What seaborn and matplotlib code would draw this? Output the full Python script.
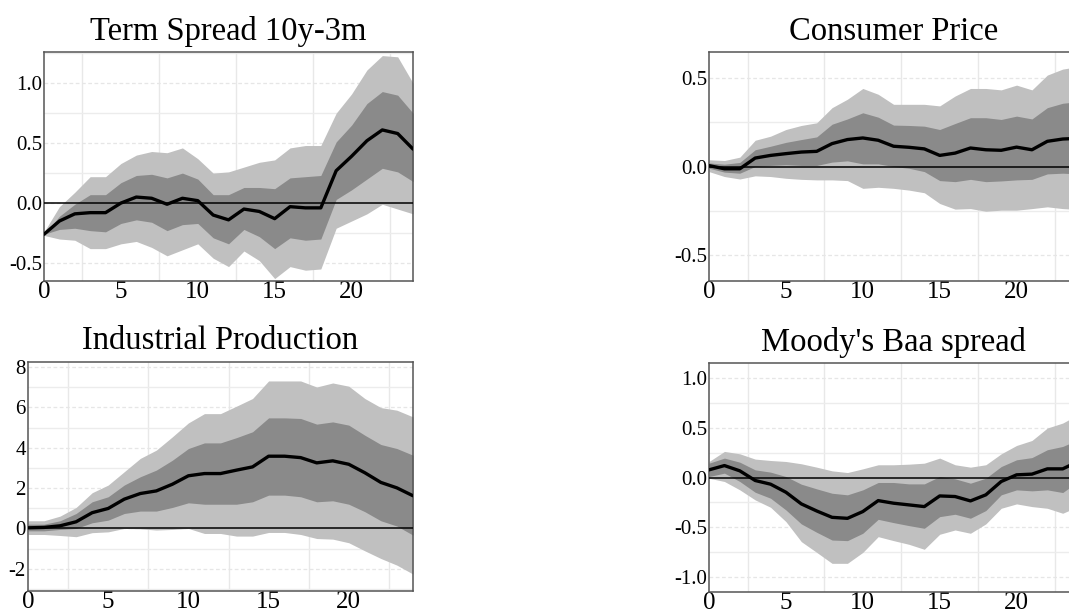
import matplotlib
matplotlib.use('Agg')
import matplotlib.pyplot as plt
import seaborn as sns
import pandas as pd
import numpy as np
from matplotlib.ticker import MultipleLocator

sns.set_theme(style='white')
plt.rcParams['font.family'] = ['Liberation Serif', 'DejaVu Serif']
plt.rcParams['text.color'] = 'black'
plt.rcParams['xtick.color'] = 'black'
plt.rcParams['ytick.color'] = 'black'

horizon = list(range(25))

# Term Spread 10y-3m
ts_med = [-0.26, -0.15, -0.09, -0.08, -0.08, 0.0, 0.05, 0.04, -0.01, 0.04, 0.02, -0.1, -0.14,
          -0.05, -0.07, -0.13, -0.03, -0.04, -0.04, 0.27, 0.39, 0.52, 0.61, 0.58, 0.45]
ts_d_hi = [-0.26, -0.11, -0.01, 0.07, 0.07, 0.17, 0.23, 0.24, 0.21, 0.25, 0.2, 0.07, 0.07,
           0.13, 0.13, 0.12, 0.21, 0.22, 0.23, 0.51, 0.65, 0.83, 0.93, 0.9, 0.75]
ts_d_lo = [-0.26, -0.22, -0.21, -0.23, -0.24, -0.17, -0.14, -0.16, -0.23, -0.18, -0.17, -0.29, -0.34,
           -0.22, -0.28, -0.38, -0.29, -0.31, -0.3, 0.03, 0.11, 0.2, 0.29, 0.26, 0.18]
ts_l_hi = [-0.24, -0.03, 0.09, 0.22, 0.22, 0.33, 0.4, 0.43, 0.42, 0.46, 0.37, 0.25, 0.26,
           0.3, 0.34, 0.36, 0.46, 0.48, 0.48, 0.75, 0.91, 1.11, 1.23, 1.22, 1.0]
ts_l_lo = [-0.27, -0.3, -0.31, -0.38, -0.38, -0.34, -0.32, -0.37, -0.44, -0.39, -0.34, -0.46, -0.53,
           -0.4, -0.48, -0.63, -0.53, -0.56, -0.55, -0.21, -0.15, -0.09, -0.01, -0.05, -0.09]

# Consumer Price
cp_med = [0.005, -0.013, -0.013, 0.048, 0.063, 0.073, 0.082, 0.086, 0.13, 0.153, 0.162, 0.149, 0.115,
          0.109, 0.1, 0.063, 0.076, 0.105, 0.095, 0.092, 0.11, 0.095, 0.143, 0.156, 0.16]
cp_d_hi = [0.02, 0.013, 0.023, 0.095, 0.115, 0.137, 0.153, 0.168, 0.24, 0.27, 0.305, 0.28, 0.235,
           0.233, 0.229, 0.21, 0.244, 0.277, 0.277, 0.267, 0.286, 0.27, 0.334, 0.359, 0.368]
cp_d_lo = [-0.01, -0.032, -0.038, 0.0, 0.006, 0.01, 0.006, 0.006, 0.025, 0.032, 0.015, 0.015, 0.0,
           -0.01, -0.029, -0.08, -0.086, -0.073, -0.086, -0.082, -0.076, -0.073, -0.042, -0.038, -0.042]
cp_l_hi = [0.038, 0.034, 0.053, 0.149, 0.172, 0.21, 0.233, 0.248, 0.334, 0.382, 0.443, 0.41, 0.353,
           0.353, 0.353, 0.344, 0.4, 0.443, 0.443, 0.435, 0.462, 0.435, 0.519, 0.553, 0.567]
cp_l_lo = [-0.029, -0.057, -0.071, -0.053, -0.057, -0.067, -0.073, -0.076, -0.076, -0.08, -0.124, -0.118, -0.124,
           -0.134, -0.149, -0.21, -0.242, -0.239, -0.254, -0.248, -0.248, -0.239, -0.229, -0.239, -0.244]

# Industrial Production
ip_med = [0.03, 0.05, 0.13, 0.33, 0.78, 0.99, 1.45, 1.73, 1.86, 2.19, 2.61, 2.72, 2.72,
          2.89, 3.05, 3.58, 3.58, 3.51, 3.25, 3.35, 3.18, 2.76, 2.28, 2.01, 1.62]
ip_d_hi = [0.21, 0.21, 0.38, 0.74, 1.32, 1.57, 2.15, 2.56, 2.89, 3.38, 3.96, 4.24, 4.24,
           4.5, 4.79, 5.48, 5.48, 5.45, 5.17, 5.28, 5.12, 4.62, 4.16, 3.96, 3.63]
ip_d_lo = [-0.12, -0.12, -0.05, 0.0, 0.28, 0.41, 0.74, 0.86, 0.86, 1.04, 1.27, 1.2, 1.2,
           1.2, 1.32, 1.65, 1.65, 1.57, 1.32, 1.37, 1.2, 0.83, 0.38, 0.12, -0.33]
ip_l_hi = [0.38, 0.38, 0.61, 1.04, 1.77, 2.15, 2.81, 3.47, 3.88, 4.54, 5.23, 5.69, 5.69,
           6.06, 6.44, 7.31, 7.31, 7.31, 7.01, 7.21, 7.05, 6.44, 5.99, 5.86, 5.53]
ip_l_lo = [-0.3, -0.3, -0.35, -0.41, -0.21, -0.17, 0.0, -0.02, -0.08, -0.05, 0.0, -0.25, -0.25,
           -0.38, -0.38, -0.2, -0.2, -0.3, -0.5, -0.53, -0.71, -1.11, -1.49, -1.82, -2.26]

# Moody's Baa spread
baa_med = [0.077, 0.12, 0.067, -0.03, -0.067, -0.148, -0.265, -0.336, -0.4, -0.41, -0.342, -0.232, -0.258,
           -0.275, -0.292, -0.185, -0.191, -0.235, -0.174, -0.04, 0.027, 0.034, 0.087, 0.087, 0.16]
baa_d_hi = [0.144, 0.195, 0.154, 0.077, 0.054, 0.01, -0.067, -0.114, -0.158, -0.174, -0.124, -0.05, -0.05,
            -0.064, -0.064, 0.01, -0.013, -0.057, -0.007, 0.11, 0.178, 0.2, 0.279, 0.312, 0.379]
baa_d_lo = [0.01, 0.044, -0.04, -0.148, -0.208, -0.326, -0.466, -0.55, -0.628, -0.634, -0.56, -0.42, -0.453,
            -0.483, -0.51, -0.393, -0.369, -0.409, -0.332, -0.174, -0.124, -0.134, -0.124, -0.151, -0.04]
baa_l_hi = [0.161, 0.262, 0.238, 0.185, 0.171, 0.161, 0.138, 0.104, 0.067, 0.05, 0.087, 0.128, 0.128,
            0.134, 0.144, 0.195, 0.128, 0.104, 0.128, 0.238, 0.322, 0.372, 0.497, 0.547, 0.631]
baa_l_lo = [-0.007, -0.04, -0.124, -0.225, -0.299, -0.443, -0.644, -0.752, -0.862, -0.862, -0.752, -0.594, -0.634,
            -0.671, -0.721, -0.57, -0.527, -0.56, -0.466, -0.309, -0.265, -0.292, -0.309, -0.359, -0.292]

panels = [
    ("Term Spread 10y-3m", ts_med, ts_d_lo, ts_d_hi, ts_l_lo, ts_l_hi, (-0.65, 1.26), 0.5,
     ['-0.5', '0.0', '0.5', '1.0'], [0.0412, 0.5386, 0.3452, 0.376]),
    ("Consumer Price", cp_med, cp_d_lo, cp_d_hi, cp_l_lo, cp_l_hi, (-0.65, 0.65), 0.5,
     ['-0.5', '0.0', '0.5'], [0.6633, 0.5386, 0.3452, 0.376]),
    ("Industrial Production", ip_med, ip_d_lo, ip_d_hi, ip_l_lo, ip_l_hi, (-3.1, 8.25), 2,
     ['-2', '0', '2', '4', '6', '8'], [0.0262, 0.0296, 0.3601, 0.376]),
    ("Moody's Baa spread", baa_med, baa_d_lo, baa_d_hi, baa_l_lo, baa_l_hi, (-1.15, 1.15), 0.5,
     ['-1.0', '-0.5', '0.0', '0.5', '1.0'], [0.6633, 0.0279, 0.3452, 0.376]),
]

fig = plt.figure(figsize=(10.69, 6.09), dpi=100)

for title, med, d_lo, d_hi, l_lo, l_hi, ylim, step, ylabels, rect in panels:
    ax = fig.add_axes(rect)
    df = pd.DataFrame({'h': horizon, 'med': med})
    ax.fill_between(horizon, l_lo, l_hi, color='#c0c0c0', linewidth=0, zorder=1)
    ax.fill_between(horizon, d_lo, d_hi, color='#8a8a8a', linewidth=0, zorder=2)
    ax.axhline(0, color='black', linewidth=1.1, zorder=3)
    sns.lineplot(data=df, x='h', y='med', color='black', linewidth=2.4, ax=ax, zorder=4)

    ax.set_xlim(0, 24)
    ax.set_ylim(*ylim)
    ticks = [float(t) for t in ylabels]
    ax.set_yticks(ticks)
    ax.set_yticklabels(ylabels)
    ax.yaxis.set_minor_locator(MultipleLocator(step / 2))
    ax.set_xticks([0, 5, 10, 15, 20])
    ax.set_xticklabels(['0', '5', '10', '15', '20'])

    ax.grid(False)
    for x in np.arange(2.5, 24, 5):
        ax.axvline(x, color='#e8e8e8', linewidth=1, zorder=0)
    for t in ax.yaxis.get_minorticklocs():
        if not any(abs(t - m) < 1e-9 for m in ticks):
            ax.axhline(t, color='#ececec', linewidth=1, zorder=0)
    for t in ticks:
        ax.axhline(t, color='#e6e6e6', linewidth=0.9, linestyle=(0, (3, 2)), zorder=0)

    ax.set_title(title, fontsize=23.5, pad=9)
    ax.set_xlabel('')
    ax.set_ylabel('')
    ax.tick_params(axis='both', which='both', length=0)
    ax.tick_params(axis='x', labelsize=18, pad=0)
    ax.tick_params(axis='y', labelsize=15, pad=1.5)
    for sp in ax.spines.values():
        sp.set_color('#555555')
        sp.set_linewidth(1.1)

fig.savefig('out.png', dpi=100)
